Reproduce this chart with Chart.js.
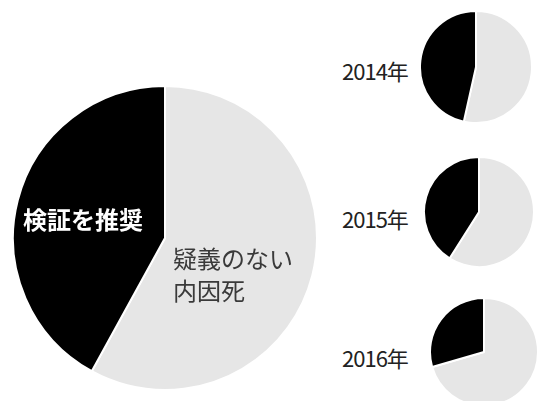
<!DOCTYPE html>
<html>
<head>
<meta charset="utf-8">
<script src="https://cdn.jsdelivr.net/npm/chart.js@4/dist/chart.umd.min.js"></script>
<style>
  html, body { margin: 0; padding: 0; background: #fff; }
  body { width: 537px; height: 401px; position: relative; overflow: hidden;
         font-family: "Noto Sans CJK JP", "Noto Sans", sans-serif; }
  canvas { position: absolute; }
  .lbl { position: absolute; white-space: nowrap; line-height: 1; }
  .year { font-size: 22px; color: #222; font-weight: 400; letter-spacing: -1px; }
</style>
</head>
<body>
<canvas id="pieTotal" width="306" height="306" style="left:12px;top:85px"></canvas>
<canvas id="pie2014" width="114" height="114" style="left:419px;top:10px"></canvas>
<canvas id="pie2015" width="112" height="112" style="left:423px;top:156px"></canvas>
<canvas id="pie2016" width="110" height="110" style="left:429px;top:297px"></canvas>

<div class="lbl" style="left:23px;top:207px;font-size:24px;font-weight:bold;color:#fff">検証を推奨</div>
<div class="lbl" style="left:173px;top:242px;font-size:24px;color:#3a3a3a;line-height:32px">疑義のない<br>内因死</div>
<div class="lbl year" id="y2014" style="left:342px;top:59px"></div>
<div class="lbl year" id="y2015" style="left:342px;top:207px"></div>
<div class="lbl year" id="y2016" style="left:342px;top:346px"></div>

<script>
// 疑義のない内因死 / 検証を推奨 (%)
var categories = ["疑義のない内因死", "検証を推奨"];
var colors = ["#e6e6e6", "#000000"];

var totalValues = [58, 42];
var years = ["2014年", "2015年", "2016年"];
var values2014 = [53.5, 46.5];
var values2015 = [59, 41];
var values2016 = [70.5, 29.5];

function makePie(id, values) {
    var ctx = document.getElementById(id).getContext('2d');
    return new Chart(ctx, {
        type: 'pie',
        data: {
            labels: categories,
            datasets: [{
                data: values,
                backgroundColor: colors,
                borderColor: '#ffffff',
                borderWidth: 2
            }]
        },
        options: {
            responsive: false,
            animation: false,
            events: [],
            layout: { padding: 0 },
            plugins: {
                legend: { display: false },
                tooltip: { enabled: false }
            }
        }
    });
}

makePie('pieTotal', totalValues);
makePie('pie2014', values2014);
makePie('pie2015', values2015);
makePie('pie2016', values2016);

document.getElementById('y2014').textContent = years[0];
document.getElementById('y2015').textContent = years[1];
document.getElementById('y2016').textContent = years[2];
</script>
</body>
</html>
